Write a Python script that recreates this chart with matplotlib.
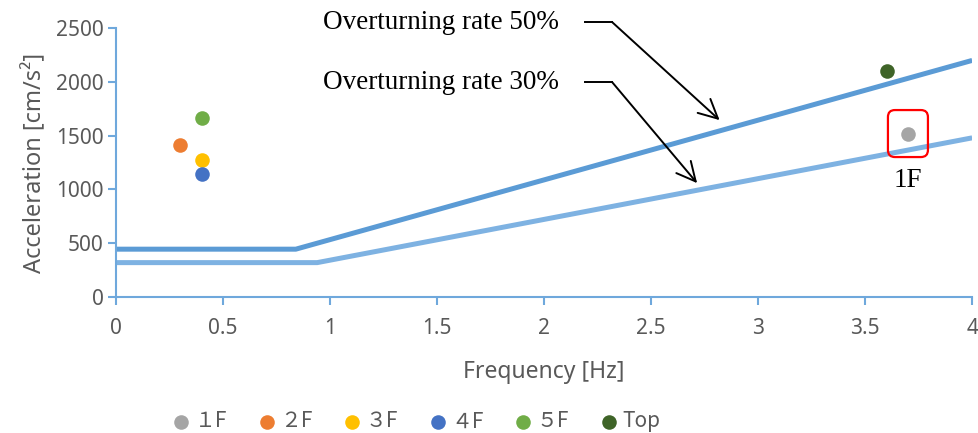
import matplotlib.pyplot as plt
from matplotlib.patches import FancyBboxPatch
from matplotlib.transforms import ScaledTranslation

# overturning threshold curves (frequency [Hz] -> acceleration [cm/s2])
rate50_freq = [0, 0.84, 4]
rate50_acc = [445, 445, 2200]
rate30_freq = [0, 0.94, 4]
rate30_acc = [320, 320, 1480]

# peak response per floor
floors = ["１F", "２F", "３F", "４F", "５F", "Top"]
floor_freq = [3.7, 0.3, 0.4, 0.4, 0.4, 3.6]
floor_acc = [1520, 1410, 1270, 1140, 1660, 2100]
floor_colors = ["#A5A5A5", "#ED7D31", "#FFC000", "#4472C4", "#70AD47", "#3F6428"]

axis_col = "#6FA8DC"
text_col = "#595959"

plt.rcParams['font.family'] = ['Noto Sans', 'DejaVu Sans']

fig = plt.figure(figsize=(9.79, 4.33), dpi=100)
ax = fig.add_axes([0.1185, 0.314, 0.8745, 0.621])

ax.plot(rate50_freq, rate50_acc, color="#5B9BD5", lw=3.6, solid_capstyle="butt", zorder=2)
ax.plot(rate30_freq, rate30_acc, color="#7EB2E2", lw=3.6, solid_capstyle="butt", zorder=2)

for name, f, a, c in zip(floors, floor_freq, floor_acc, floor_colors):
    ax.scatter(f, a, s=110, color=c, label=name, zorder=3, linewidths=0)

ax.set_xlim(0, 4)
ax.set_ylim(0, 2500)
ax.set_xticks([0, 0.5, 1, 1.5, 2, 2.5, 3, 3.5, 4])
ax.set_xticklabels(["0", "0.5", "1", "1.5", "2", "2.5", "3", "3.5", "4"])
ax.set_yticks(range(0, 2501, 500))

for s in ["top", "right"]:
    ax.spines[s].set_visible(False)
for s in ["left", "bottom"]:
    ax.spines[s].set_color(axis_col)
    ax.spines[s].set_linewidth(1.5)
ax.tick_params(colors=axis_col, labelcolor=text_col, labelsize=15, width=1.5, length=6)
ax.tick_params(axis="x", pad=9)
ax.tick_params(axis="y", pad=3)

ax.set_xlabel("Frequency [Hz]", fontsize=16.5, color=text_col, labelpad=15)
ax.set_ylabel("Acceleration [cm/s²]", fontsize=17, color=text_col, labelpad=6)

# callouts for the two threshold lines
serif = ['Liberation Serif', 'DejaVu Serif']
callouts = [("Overturning rate 50%", 2556, (2.82, 1645)),
            ("Overturning rate 30%", 1998, (2.715, 1059))]
for label, ty, tip in callouts:
    ax.text(0.967, ty, label, family=serif, fontsize=19.5, va="center", ha="left",
            clip_on=False)
    ax.plot([2.19, 2.318], [ty, ty], color="black", lw=1.4, clip_on=False)
    ax.annotate("", xy=tip, xytext=(2.318, ty), annotation_clip=False,
                arrowprops=dict(arrowstyle="->", color="black", lw=1.4,
                                mutation_scale=34, shrinkA=0, shrinkB=0))

# highlight box around the 1F point
box_tr = fig.dpi_scale_trans + ScaledTranslation(floor_freq[0], floor_acc[0], ax.transData)
ax.add_patch(FancyBboxPatch((-0.2, -0.235), 0.4, 0.47,
                            boxstyle="round,pad=0,rounding_size=0.07",
                            transform=box_tr, fc="none", ec="#FF0000", lw=1.6,
                            clip_on=False, zorder=4))
ax.annotate("1F", xy=(floor_freq[0], floor_acc[0]), xytext=(0, -34),
            textcoords="offset points", ha="center", va="center",
            family=serif, fontsize=19.5)

leg = fig.legend(loc="center left", bbox_to_anchor=(0.166, 0.027), ncol=6,
                 frameon=False, handlelength=0.8, handletextpad=0.25, columnspacing=1.5,
                 markerscale=1.0, borderpad=0,
                 prop={'family': ['Noto Sans CJK JP', 'DejaVu Sans'], 'size': 15})
for t in leg.get_texts():
    t.set_color(text_col)

fig.savefig("out.png", dpi=100)
